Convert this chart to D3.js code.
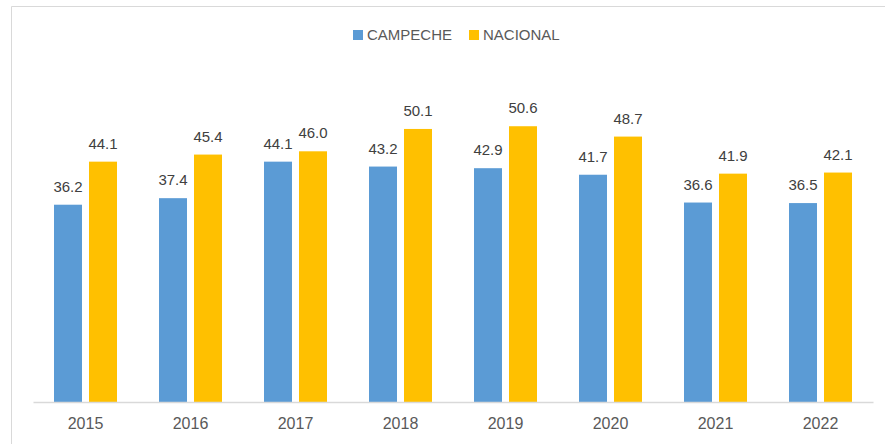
<!DOCTYPE html>
<html>
<head>
<meta charset="utf-8">
<script src="https://cdn.jsdelivr.net/npm/d3@7"></script>
<style>
  body { margin: 0; background: #fff; }
  svg { display: block; font-family: "Liberation Sans", Arial, sans-serif; }
</style>
</head>
<body>
<svg id="chart"></svg>
<script>
// chart values
var years = ["2015", "2016", "2017", "2018", "2019", "2020", "2021", "2022"];
var seriesNames = ["CAMPECHE", "NACIONAL"];
var campeche = [36.2, 37.4, 44.1, 43.2, 42.9, 41.7, 36.6, 36.5];
var nacional = [44.1, 45.4, 46.0, 50.1, 50.6, 48.7, 41.9, 42.1];

var width = 885, height = 444;
var colors = ["#5B9BD5", "#FFC000"];
var textColor = "#595959";

var svg = d3.select("#chart")
    .attr("width", width)
    .attr("height", height);

// chart area frame (only left/top visible in reference)
svg.append("path")
    .attr("d", "M11.5,444 V6.5 H885")
    .attr("fill", "none")
    .attr("stroke", "#D9D9D9");

var x = d3.scaleBand()
    .domain(years)
    .range([33, 873]);

var inner = d3.scaleBand()
    .domain(seriesNames)
    .range([21, 84])
    .paddingInner(0.2);

var y = d3.scaleLinear()
    .domain([0, 60])
    .range([402, 75]);

var data = years.map(function (yr, i) {
    return {year: yr, values: [campeche[i], nacional[i]]};
});

var groups = svg.append("g")
    .selectAll("g")
    .data(data)
    .join("g")
    .attr("transform", d => `translate(${x(d.year)},0)`);

groups.selectAll("rect")
    .data(d => d.values.map((v, i) => ({name: seriesNames[i], value: v, idx: i})))
    .join("rect")
    .attr("x", d => inner(d.name))
    .attr("width", inner.bandwidth())
    .attr("y", d => y(d.value))
    .attr("height", d => y(0) - y(d.value))
    .attr("fill", d => colors[d.idx]);

groups.selectAll("text.val")
    .data(d => d.values.map((v, i) => ({name: seriesNames[i], value: v})))
    .join("text")
    .attr("class", "val")
    .attr("x", d => inner(d.name) + inner.bandwidth() / 2)
    .attr("y", d => y(d.value) - 13)
    .attr("text-anchor", "middle")
    .attr("font-size", 15)
    .attr("fill", "#404040")
    .text(d => d.value.toFixed(1));

// x axis
var xAxis = svg.append("g")
    .attr("transform", `translate(0,${y(0)})`)
    .call(d3.axisBottom(x).tickSize(0).tickPadding(16));
xAxis.select(".domain").attr("stroke", "#D9D9D9").attr("stroke-width", 1.5);
xAxis.selectAll("text")
    .attr("font-family", "Liberation Sans, Arial, sans-serif")
    .attr("font-size", 16)
    .attr("fill", textColor);

// legend
var legendX = [353, 469];
var legend = svg.append("g")
    .selectAll("g")
    .data(seriesNames)
    .join("g")
    .attr("transform", (d, i) => `translate(${legendX[i]},30)`);
legend.append("rect")
    .attr("width", 10)
    .attr("height", 10)
    .attr("fill", (d, i) => colors[i]);
legend.append("text")
    .attr("x", 14)
    .attr("y", 10)
    .attr("font-size", 15)
    .attr("fill", textColor)
    .text(d => d);
</script>
</body>
</html>
